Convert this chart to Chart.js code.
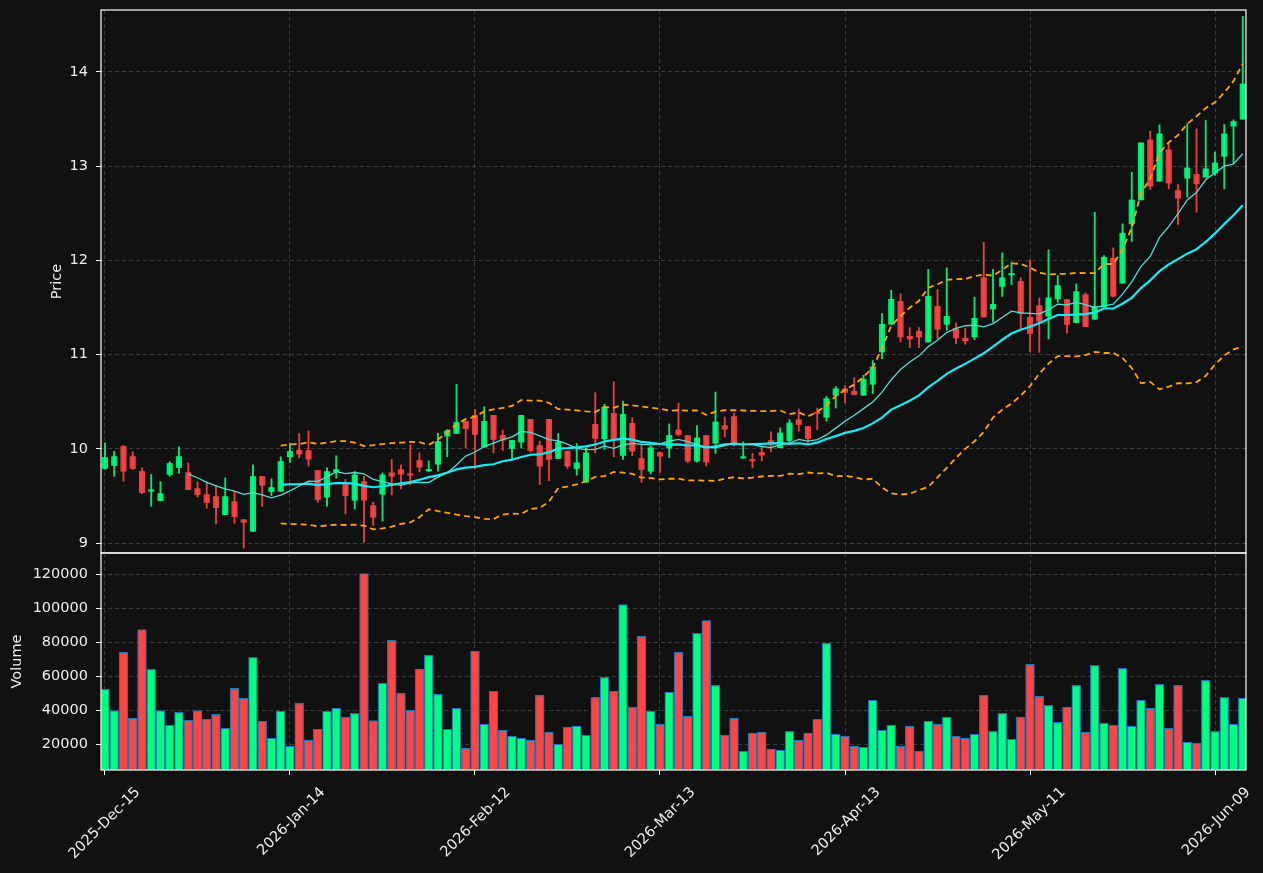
<!DOCTYPE html>
<html>
<head>
<meta charset="utf-8">
<script src="https://cdn.jsdelivr.net/npm/chart.js@4.4.1/dist/chart.umd.min.js"></script>
<style>
    body { margin: 0; background: #111111; width: 1263px; height: 873px; overflow: hidden; }
    #price-box { position: absolute; left: 0; top: 0; width: 1263px; height: 560px; }
    #volume-box { position: absolute; left: 0; top: 548px; width: 1263px; height: 325px; }
</style>
</head>
<body>
<div id="price-box"><canvas id="price-canva" width="1263" height="560"></canvas></div>
<div id="volume-box"><canvas id="volume-canva" width="1263" height="325"></canvas></div>
<script>
var opens = [
    9.791, 9.823, 10.025, 9.918, 9.759, 9.550, 9.450, 9.727, 9.801, 9.748,
    9.578, 9.514, 9.493, 9.301, 9.440, 9.248, 9.124, 9.706, 9.546, 9.550,
    9.915, 9.986, 9.982, 9.770, 9.486, 9.755, 9.638, 9.454, 9.652, 9.397,
    9.518, 9.745, 9.780, 9.734, 9.876, 9.766, 9.837, 10.135, 10.163, 10.290,
    10.355, 10.018, 10.355, 10.142, 10.004, 10.071, 10.312, 10.035, 10.312, 9.897,
    9.975, 9.791, 9.645, 10.259, 10.106, 10.376, 9.929, 10.270, 9.897, 9.762,
    9.960, 10.007, 10.200, 10.141, 9.870, 10.141, 10.060, 10.246, 10.342, 9.901,
    9.877, 9.961, 10.088, 10.011, 10.088, 10.310, 10.236, 10.387, 10.335, 10.567,
    10.637, 10.611, 10.569, 10.686, 11.028, 11.322, 11.565, 11.194, 11.247, 11.134,
    11.512, 11.322, 11.276, 11.173, 11.187, 11.816, 11.484, 11.724, 11.845, 11.777,
    11.396, 11.520, 11.407, 11.591, 11.584, 11.340, 11.637, 11.375, 11.503, 12.023,
    11.758, 12.388, 12.642, 13.280, 12.841, 13.173, 12.742, 12.873, 12.912, 12.883,
    12.926, 13.106, 13.425, 13.499
];
var highs = [
    10.064, 9.972, 10.035, 9.968, 9.798, 9.727, 9.652, 9.862, 10.021, 9.851,
    9.649, 9.649, 9.613, 9.691, 9.546, 9.248, 9.830, 9.706, 9.681, 9.915,
    10.060, 10.163, 10.190, 9.770, 9.798, 9.926, 9.674, 9.759, 9.709, 9.433,
    9.745, 9.887, 9.830, 10.043, 9.957, 9.872, 10.163, 10.206, 10.684, 10.290,
    10.418, 10.447, 10.355, 10.199, 10.089, 10.355, 10.312, 10.082, 10.312, 10.163,
    9.975, 10.057, 10.007, 10.596, 10.472, 10.713, 10.507, 10.330, 10.057, 10.028,
    9.960, 10.264, 10.486, 10.141, 10.246, 10.141, 10.602, 10.338, 10.380, 10.074,
    9.951, 10.028, 10.180, 10.222, 10.310, 10.423, 10.236, 10.433, 10.556, 10.662,
    10.669, 10.756, 10.781, 10.936, 11.435, 11.682, 11.647, 11.286, 11.286, 11.905,
    11.689, 11.922, 11.336, 11.279, 11.611, 12.194, 11.905, 12.081, 11.982, 11.816,
    12.007, 11.602, 12.112, 11.839, 11.584, 11.750, 11.655, 12.512, 12.051, 12.133,
    12.388, 12.936, 13.248, 13.372, 13.439, 13.237, 12.805, 13.450, 13.396, 13.485,
    13.149, 13.443, 13.492, 14.589
];
var lows = [
    9.785, 9.709, 9.656, 9.780, 9.525, 9.390, 9.450, 9.709, 9.741, 9.567,
    9.489, 9.369, 9.202, 9.300, 9.209, 8.947, 9.124, 9.390, 9.504, 9.550,
    9.855, 9.904, 9.816, 9.433, 9.390, 9.688, 9.309, 9.362, 9.010, 9.188,
    9.234, 9.511, 9.574, 9.617, 9.755, 9.759, 9.762, 9.915, 10.163, 10.010,
    9.787, 10.018, 9.957, 9.982, 9.894, 10.010, 9.965, 9.621, 9.663, 9.897,
    9.791, 9.720, 9.645, 9.957, 9.993, 9.915, 9.887, 9.929, 9.645, 9.734,
    9.750, 9.905, 10.134, 9.852, 9.859, 9.817, 9.951, 10.127, 10.028, 9.901,
    9.799, 9.870, 9.968, 10.011, 10.063, 10.187, 10.063, 10.204, 10.292, 10.433,
    10.486, 10.576, 10.569, 10.587, 10.958, 11.322, 11.134, 11.074, 11.074, 11.134,
    11.170, 11.258, 11.117, 11.110, 11.159, 11.399, 11.346, 11.618, 11.742, 11.276,
    11.028, 11.025, 11.166, 11.556, 11.227, 11.340, 11.297, 11.375, 11.503, 11.619,
    11.758, 12.200, 12.642, 12.752, 12.841, 12.759, 12.381, 12.671, 12.512, 12.883,
    12.901, 12.759, 13.025, 13.499
];
var closes = [
    9.908, 9.918, 9.762, 9.791, 9.535, 9.556, 9.525, 9.844, 9.918, 9.567,
    9.514, 9.429, 9.376, 9.493, 9.280, 9.220, 9.706, 9.613, 9.589, 9.865,
    9.972, 9.943, 9.890, 9.461, 9.759, 9.780, 9.504, 9.723, 9.454, 9.273,
    9.723, 9.709, 9.730, 9.720, 9.805, 9.780, 10.078, 10.191, 10.280, 10.216,
    10.152, 10.291, 10.099, 10.092, 10.089, 10.355, 9.982, 9.816, 9.887, 10.071,
    9.816, 9.851, 9.957, 10.110, 10.443, 10.106, 10.365, 9.975, 9.780, 10.011,
    9.922, 10.141, 10.151, 9.870, 10.116, 9.859, 10.285, 10.208, 10.039, 9.915,
    9.870, 9.933, 10.039, 10.169, 10.275, 10.257, 10.109, 10.373, 10.532, 10.637,
    10.599, 10.576, 10.739, 10.869, 11.322, 11.587, 11.187, 11.166, 11.187, 11.618,
    11.269, 11.406, 11.177, 11.145, 11.385, 11.399, 11.534, 11.816, 11.862, 11.435,
    11.223, 11.354, 11.602, 11.733, 11.319, 11.669, 11.297, 11.510, 12.034, 11.619,
    12.289, 12.642, 13.248, 12.788, 13.343, 12.820, 12.660, 12.982, 12.812, 12.972,
    13.035, 13.343, 13.474, 13.874
];
var volumes = [
    52300, 39800, 74100, 35300, 87600, 64100, 39800, 31200, 38800, 34100,
    39800, 34700, 37600, 29400, 52900, 47100, 71200, 33500, 23500, 39400,
    18800, 44100, 22400, 28800, 39400, 41200, 35900, 38200, 120600, 33900,
    55900, 81200, 50000, 40000, 64300, 72300, 49400, 28800, 41200, 17600,
    74900, 31800, 51200, 28200, 24700, 23500, 22400, 48800, 27100, 20000,
    30000, 30600, 25300, 47600, 59400, 51200, 102300, 41800, 83500, 39400,
    31800, 50600, 74100, 36500, 85300, 92900, 54700, 25300, 35300, 15900,
    26500, 27100, 17100, 16500, 27600, 22400, 26500, 34700, 79400, 25900,
    24700, 18800, 18200, 45900, 28200, 31200, 18800, 30600, 15900, 33500,
    31800, 35900, 24700, 23500, 25900, 48800, 27600, 38200, 22900, 35900,
    67000, 48200, 42900, 32900, 41800, 54700, 27100, 66500, 32400, 31200,
    64700, 30600, 45900, 41200, 55300, 29400, 54700, 21200, 20600, 57600,
    27600, 47600, 31800, 47100
];
var tickIndexes = [0, 20, 40, 60, 80, 100, 120];
var tickLabels = ["2025-Dec-15", "2026-Jan-14", "2026-Feb-12", "2026-Mar-13", "2026-Apr-13", "2026-May-11", "2026-Jun-09"];
var priceTicks = [9, 10, 11, 12, 13, 14];
var volumeTicks = [20000, 40000, 60000, 80000, 100000, 120000];

var upColor = "rgba(0, 255, 127, 0.9)";
var downColor = "rgba(255, 68, 68, 0.9)";
var upVolume = "#00ff7f";
var downVolume = "#ff4444";
var gridColor = "#3a3a3a";
var textColor = "#eeeeee";

Chart.defaults.font.family = "DejaVu Sans";
Chart.defaults.font.size = 14;
Chart.defaults.color = textColor;

function rollingMean (values, n) {
    return values.map(function (v, i) {
        if (i < n - 1) return null;
        let sum = 0;
        for (let k = i - n + 1; k <= i; k++) sum += values[k];
        return sum / n;
    });
}

function rollingStd (values, n) {
    let means = rollingMean(values, n);
    return values.map(function (v, i) {
        if (i < n - 1) return null;
        let sum = 0;
        for (let k = i - n + 1; k <= i; k++) sum += Math.pow(values[k] - means[i], 2);
        return Math.sqrt(sum / n);
    });
}

function toPoints (values) {
    let points = [];
    values.forEach(function (v, i) {
        if (v !== null) points.push({x: i, y: v});
    });
    return points;
}

function isUp (i) {
    return closes[i] >= opens[i];
}

var ma10 = rollingMean(closes, 10);
var ma20 = rollingMean(closes, 20);
var sd20 = rollingStd(closes, 20);
var upperBand = ma20.map((m, i) => m === null ? null : m + 2 * sd20[i]);
var lowerBand = ma20.map((m, i) => m === null ? null : m - 2 * sd20[i]);

var framePlugin = {
    id: "frame",
    afterDraw: function (chart) {
        let a = chart.chartArea;
        let ctx = chart.ctx;
        ctx.save();
        ctx.strokeStyle = "#ffffff";
        ctx.lineWidth = 1.2;
        ctx.strokeRect(a.left, a.top, a.right - a.left, a.bottom - a.top);
        ctx.restore();
    }
};

function fixedWidth (w) {
    return function (scale) {
        scale.width = w;
        scale.paddingTop = 0;
        scale.paddingBottom = 0;
    };
}

function fixedHeight (h) {
    return function (scale) {
        scale.height = h;
        scale.paddingLeft = 0;
        scale.paddingRight = 0;
    };
}

function xScale (showLabels, height) {
    return {
        type: "linear",
        min: -0.43,
        max: 123.35,
        offset: false,
        afterFit: fixedHeight(height),
        afterBuildTicks: function (scale) {
            scale.ticks = tickIndexes.map(v => ({value: v}));
        },
        grid: {
            offset: false,
            color: gridColor,
            drawTicks: showLabels,
            tickLength: 5,
            tickColor: "#ffffff"
        },
        border: { display: false, dash: [4, 3] },
        ticks: {
            display: showLabels,
            autoSkip: false,
            maxRotation: 45,
            minRotation: 45,
            labelOffset: 33,
            padding: 9,
            color: textColor,
            font: { size: 14.5 },
            callback: function (value) {
                let k = tickIndexes.indexOf(value);
                return k >= 0 ? tickLabels[k] : "";
            }
        }
    };
}

function yScale (min, max, ticks, title, titlePad) {
    return {
        type: "linear",
        min: min,
        max: max,
        afterFit: fixedWidth(101),
        afterBuildTicks: function (scale) {
            scale.ticks = ticks.map(v => ({value: v}));
        },
        grid: {
            color: gridColor,
            drawTicks: true,
            tickLength: 5,
            tickColor: "#ffffff"
        },
        border: { display: false, dash: [4, 3] },
        ticks: {
            padding: 8,
            color: textColor,
            font: { size: 14.5 },
            callback: v => String(v)
        },
        title: {
            display: true,
            text: title,
            color: textColor,
            font: { size: 14.5 },
            padding: { top: titlePad, bottom: 0 }
        }
    };
}

function showPriceChart () {
    let canv = document.querySelector("#price-canva").getContext("2d");
    let idx = closes.map((c, i) => i);
    new Chart(canv, {
        type: "bar",
        data: {
            datasets: [
                {
                    type: "line",
                    label: "MA10",
                    data: toPoints(ma10),
                    borderColor: "#52dcd4",
                    borderWidth: 1.3,
                    pointRadius: 0,
                    tension: 0,
                    order: 0
                },
                {
                    type: "line",
                    label: "MA20",
                    data: toPoints(ma20),
                    borderColor: "#14ecf5",
                    borderWidth: 2.2,
                    pointRadius: 0,
                    tension: 0,
                    order: 0
                },
                {
                    type: "line",
                    label: "Upper",
                    data: toPoints(upperBand),
                    borderColor: "#ffa500",
                    borderWidth: 1.8,
                    borderDash: [6, 4],
                    pointRadius: 0,
                    tension: 0,
                    order: 0
                },
                {
                    type: "line",
                    label: "Lower",
                    data: toPoints(lowerBand),
                    borderColor: "#ffa500",
                    borderWidth: 1.8,
                    borderDash: [6, 4],
                    pointRadius: 0,
                    tension: 0,
                    order: 0
                },
                {
                    label: "Body",
                    data: idx.map(i => ({x: i, y: [Math.min(opens[i], closes[i]), Math.max(opens[i], closes[i])]})),
                    backgroundColor: ctx => isUp(ctx.dataIndex) ? upColor : downColor,
                    barThickness: 5.5,
                    minBarLength: 1.5,
                    borderWidth: 0,
                    grouped: false,
                    order: 1
                },
                {
                    label: "Wick",
                    data: idx.map(i => ({x: i, y: [lows[i], highs[i]]})),
                    backgroundColor: ctx => isUp(ctx.dataIndex) ? upColor : downColor,
                    barThickness: 1.2,
                    borderWidth: 0,
                    grouped: false,
                    order: 2
                }
            ]
        },
        options: {
            responsive: false,
            animation: false,
            layout: { padding: { left: 0, right: 17, top: 10, bottom: 7 } },
            plugins: { legend: { display: false }, tooltip: { enabled: false } },
            scales: {
                x: xScale(false, 0),
                y: yScale(8.894, 14.658, priceTicks, "Price", 48.5)
            }
        },
        plugins: [framePlugin]
    });
}

function showVolumeChart () {
    let canv = document.querySelector("#volume-canva").getContext("2d");
    new Chart(canv, {
        type: "bar",
        data: {
            datasets: [
                {
                    label: "Volume",
                    data: volumes.map((v, i) => ({x: i, y: v})),
                    backgroundColor: ctx => isUp(ctx.dataIndex) ? upVolume : downVolume,
                    borderColor: "#1f77b4",
                    borderWidth: 1.2,
                    borderSkipped: false,
                    barThickness: 8.8
                }
            ]
        },
        options: {
            responsive: false,
            animation: false,
            layout: { padding: { left: 0, right: 17, top: 5, bottom: 0 } },
            plugins: { legend: { display: false }, tooltip: { enabled: false } },
            scales: {
                x: xScale(true, 103),
                y: yScale(0.3 * Math.min(...volumes), 1.1 * Math.max(...volumes), volumeTicks, "Volume", 8.5)
            }
        },
        plugins: [framePlugin]
    });
}

showPriceChart();
showVolumeChart();
</script>
</body>
</html>
